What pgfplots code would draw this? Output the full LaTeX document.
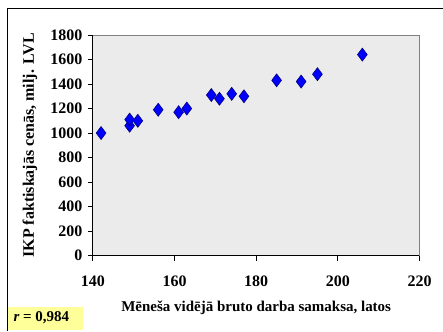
\documentclass[border=0pt]{standalone}
\usepackage{fontspec}
\setmainfont{Liberation Serif}
\usepackage{pgfplots}
\pgfplotsset{compat=1.18}
\definecolor{plotbg}{HTML}{EBEBEB}
\definecolor{markblue}{HTML}{0000FF}
\definecolor{markedge}{HTML}{000080}
\definecolor{rbox}{HTML}{FFFF99}

\begin{document}
\begin{tikzpicture}
\begin{axis}[
  name=ax,
  scale only axis,
  width=327pt, height=221pt,
  xmin=140, xmax=220, ymin=0, ymax=1800,
  xtick={140,160,...,220},
  ytick={0,200,...,1800},
  tick pos=left,
  tick align=outside,
  major tick length=5pt,
  axis x line*=bottom, axis y line*=left,
  axis line style={line width=0.8pt},
  every tick/.style={black,line width=0.8pt},
  axis background/.style={fill=plotbg},
  /pgf/number format/assume math mode=true,
  /pgf/number format/1000 sep={},
  ticklabel style={font=\fontsize{16}{18}\selectfont\bfseries},
  xticklabel style={anchor=center,yshift=-21pt},
  yticklabel style={anchor=east,xshift=-2pt},
  xlabel={Mēneša vidējā bruto darba samaksa, latos},
  ylabel={IKP faktiskajās cenās, milj. LVL},
  label style={font=\fontsize{15}{17}\selectfont\bfseries},
  xlabel style={at={(axis description cs:0.5,0)},anchor=center,yshift=-52pt},
  ylabel style={at={(axis description cs:0,0.5)},anchor=center,yshift=63pt,
    font=\fontsize{16}{18}\selectfont\bfseries},
  clip=false,
]
\addplot[only marks, mark=diamond*, mark size=6.5pt,
  mark options={fill=markblue,draw=markedge,line width=0.6pt}]
coordinates {
(142,1000) (149,1060) (149,1110) (151,1100) (156,1190)
(161,1170) (163,1200) (169,1310) (171,1280) (174,1320)
(177,1300) (185,1430) (191,1420) (195,1480) (206,1640)
};
\draw[gray,line width=0.8pt] (rel axis cs:0,1) -- (rel axis cs:1,1) -- (rel axis cs:1,0);
\coordinate (SW) at (rel axis cs:0,0);
\end{axis}
\begin{scope}[shift={(SW)},x=1pt,y=1pt]
\draw[black,line width=1pt] (-85.5,-75) -- (-85.5,247) -- (350,247);
\fill[rbox] (-85,-74) rectangle (-10,-51);
\node[anchor=west,font=\fontsize{15}{18}\selectfont\bfseries] at (-83,-62.5) {\textit{r} = 0,984};
\path (-93,-75) rectangle (350,256);
\end{scope}
\end{tikzpicture}
\end{document}
